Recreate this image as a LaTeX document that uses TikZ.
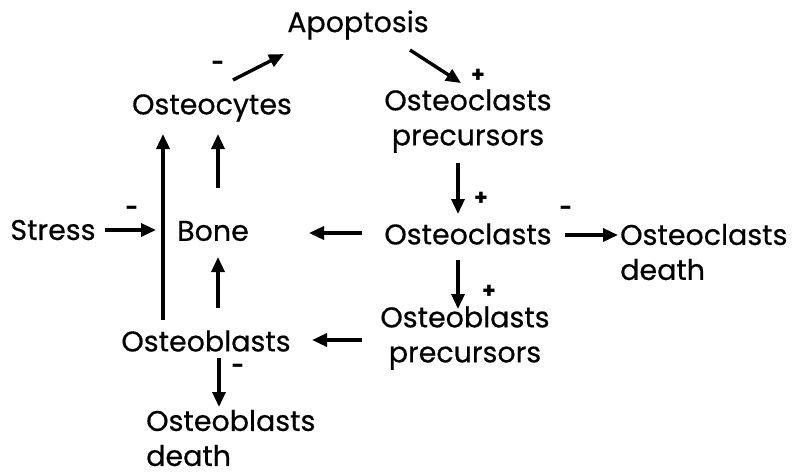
\documentclass[tikz,border=0pt]{standalone}
\usepackage{fontspec}
\setmainfont{Poppins}
\newfontfamily\lblfont{Poppins}[FakeBold=0.5]
\usetikzlibrary{arrows.meta}
\begin{document}
\begin{tikzpicture}[x=1pt,y=-1pt,
  lbl/.style={font=\lblfont\fontsize{28.5}{35}\selectfont, inner sep=0pt, align=center},
  lbll/.style={font=\lblfont\fontsize{28.5}{35}\selectfont, inner sep=0pt, align=left},
  sgn/.style={font=\fontsize{22}{22}\selectfont\bfseries, inner sep=0pt},
  arr/.style={line width=3.4pt, -{Triangle[length=15pt,width=13pt]}}]
\useasboundingbox (0,0) rectangle (794,475);
% nodes
\node[lbl] (apo) at (358,25) {Apoptosis};
\node[lbl] (ocyt) at (212,108) {Osteocytes};
\node[lbl] (ocp) at (468,121) {Osteoclasts\\precursors};
\node[lbl] (stress) at (53,230) {Stress};
\node[lbl] (bone) at (213,231) {Bone};
\node[lbl] (ocl) at (468,234) {Osteoclasts};
\node[lbll, anchor=west] (ocd) at (620,252) {Osteoclasts\\death};
\node[lbl] (obp) at (465,338) {Osteoblasts\\precursors};
\node[lbl] (obl) at (206,341) {Osteoblasts};
\node[lbll, anchor=west] (obd) at (146,438) {Osteoblasts\\death};
% connector end coordinates
\coordinate (c1s) at (233,80);  \coordinate (c1e) at (284,54);
\coordinate (c2s) at (410,50);  \coordinate (c2e) at (461,83);
\coordinate (c3s) at (458,163); \coordinate (c3e) at (458,214);
\coordinate (c4s) at (565,235); \coordinate (c4e) at (618,235);
\coordinate (c5s) at (458,260); \coordinate (c5e) at (458,309);
\coordinate (c6s) at (362,340); \coordinate (c6e) at (312,340);
\coordinate (c7s) at (362,233); \coordinate (c7e) at (309,233);
\coordinate (c8s) at (105,230); \coordinate (c8e) at (156,230);
\coordinate (c9s) at (163,320); \coordinate (c9e) at (163,134);
\coordinate (c10s) at (218,188); \coordinate (c10e) at (218,134);
\coordinate (c11s) at (218,308); \coordinate (c11e) at (218,257);
\coordinate (c12s) at (219,358); \coordinate (c12e) at (219,407);
% connectors
\draw[arr] (c1s) -- (c1e);
\draw[arr] (c2s) -- (c2e);
\draw[arr] (c3s) -- (c3e);
\draw[arr] (c4s) -- (c4e);
\draw[arr] (c5s) -- (c5e);
\draw[arr] (c6s) -- (c6e);
\draw[arr] (c7s) -- (c7e);
\draw[arr] (c8s) -- (c8e);
\draw[arr] (c9s) -- (c9e);
\draw[arr] (c10s) -- (c10e);
\draw[arr] (c11s) -- (c11e);
\draw[arr] (c12s) -- (c12e);
% signs
\node[sgn] (s1) at (218,66) {-};
\node[sgn] (s2) at (478,76) {+};
\node[sgn] (s3) at (481,199) {+};
\node[sgn] (s4) at (566,211) {-};
\node[sgn] (s5) at (489,292) {+};
\node[sgn] (s6) at (132,211) {-};
\node[sgn] (s7) at (238,369) {-};
\end{tikzpicture}
\end{document}
